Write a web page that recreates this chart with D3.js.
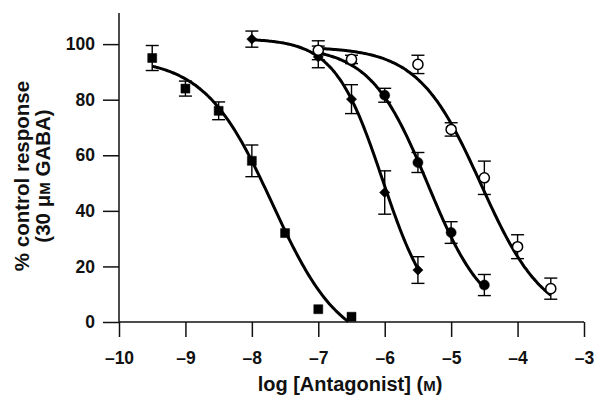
<!DOCTYPE html>
<html>
<head>
<meta charset="utf-8">
<script src="https://cdn.jsdelivr.net/npm/d3@7"></script>
<style>
  body { margin: 0; background: #fff; }
  text { font-family: "Liberation Sans", Arial, sans-serif; font-weight: bold; fill: #111; }
</style>
</head>
<body>
<div id="chart"></div>
<script>
// data: log concentration, % response, s.e.m.
const squareX = [-9.5, -9, -8.5, -8, -7.5, -7, -6.5];
const squareY = [95, 84, 76, 58, 32, 4.6, 1.9];
const squareErr = [4.5, 2.7, 3.2, 5.7, 0, 0, 0];

const diamondX = [-8, -7, -6.5, -6, -5.5];
const diamondY = [101.8, 95.4, 80.2, 46.6, 18.7];
const diamondErr = [2.9, 3.9, 5.2, 7.8, 4.8];

const filledX = [-7, -6.5, -6, -5.5, -5, -4.5];
const filledY = [97, 94, 81.6, 57.4, 32.2, 13.3];
const filledErr = [0, 0, 2.5, 3.6, 3.9, 3.8];

const openX = [-7, -6.5, -5.5, -5, -4.5, -4, -3.5];
const openY = [97.8, 94.5, 92.7, 69.3, 51.9, 27.1, 12];
const openErr = [3.4, 1.5, 3.3, 2.4, 6, 4.3, 3.8];

// fitted logistic curves: [top, bottom, logIC50, slope, from, to]
const squareFit = [95, -10, -7.69, 0.85, -9.5, -6.55];
const diamondFit = [102, 0, -6.03, 1.2, -8, -5.5];
const filledFit = [99, 0, -5.35, 1.0, -7, -4.5];
const openFit = [99, 0, -4.55, 0.92, -7, -3.5];

const xTicks = [-10, -9, -8, -7, -6, -5, -4, -3];
const yTicks = [0, 20, 40, 60, 80, 100];

const width = 596, height = 395;

const x = d3.scaleLinear().domain([-10, -3]).range([119, 584]);
const y = d3.scaleLinear().domain([0, 111.2]).range([322, 13]);

const svg = d3.select("#chart").append("svg")
    .attr("width", width)
    .attr("height", height);

// axes
const xAxis = d3.axisBottom(x)
    .tickValues(xTicks)
    .tickSize(15)
    .tickPadding(15)
    .tickFormat(d => String(d).replace("-", "\u2013"));

const gx = svg.append("g")
    .attr("transform", `translate(0,${y(0)})`)
    .call(xAxis);
gx.select(".domain").attr("d", `M${x(-10)},0H${x(-3)}`);

const yAxis = d3.axisLeft(y)
    .tickValues(yTicks)
    .tickSize(16)
    .tickPadding(8);

const gy = svg.append("g")
    .attr("transform", `translate(${x(-10)},0)`)
    .call(yAxis);
gy.select(".domain").attr("d", `M0,${y(0)}V${y(111.2)}`);

svg.selectAll(".domain, .tick line")
    .attr("stroke", "#111")
    .attr("stroke-width", 1.5);
svg.selectAll(".tick text")
    .attr("fill", "#111")
    .style("font-size", "17.5px")
    .style("font-family", "'Liberation Sans', Arial, sans-serif")
    .style("font-weight", "bold");

// axis labels
const xLabel = svg.append("text")
    .attr("x", 350)
    .attr("y", 391)
    .attr("text-anchor", "middle")
    .style("font-size", "20px");
xLabel.append("tspan").text("log [Antagonist] (");
xLabel.append("tspan").style("font-size", "15px").text("M");
xLabel.append("tspan").text(")");

const yLabel = svg.append("text")
    .attr("transform", "translate(29,176) rotate(-90)")
    .attr("text-anchor", "middle")
    .style("font-size", "20.5px");
yLabel.append("tspan").attr("x", 0).attr("dy", 0).text("% control response");
yLabel.append("tspan").attr("x", 0).attr("dy", 21).text("(30 \u03bc");
yLabel.append("tspan").style("font-size", "15px").text("M");
yLabel.append("tspan").text(" GABA)");

// curves
const hill = p => {
    const [top, bottom, ic50, n, from, to] = p;
    const pts = [];
    for (let i = 0; i <= 120; i++) {
        const lx = from + (to - from) * i / 120;
        pts.push([lx, bottom + (top - bottom) / (1 + Math.pow(10, (lx - ic50) * n))]);
    }
    return pts;
};
const line = d3.line().x(d => x(d[0])).y(d => y(d[1])).curve(d3.curveBasis);

[squareFit, diamondFit, filledFit, openFit].forEach(p => {
    svg.append("path")
        .attr("d", line(hill(p)))
        .attr("fill", "none")
        .attr("stroke", "#000")
        .attr("stroke-width", 3);
});

// series with error bars and markers
const series = [
    { xs: squareX, ys: squareY, err: squareErr, sym: d3.symbolSquare, size: 81, rot: 0, fill: "#000" },
    { xs: diamondX, ys: diamondY, err: diamondErr, sym: d3.symbolSquare, size: 52, rot: 45, fill: "#000" },
    { xs: filledX, ys: filledY, err: filledErr, sym: d3.symbolCircle, size: 80, rot: 0, fill: "#000" },
    { xs: openX, ys: openY, err: openErr, sym: d3.symbolCircle, size: 80, rot: 0, fill: "#fff" }
];

series.forEach(s => {
    const g = svg.append("g");
    const pts = s.xs.map((v, i) => ({ x: v, y: s.ys[i], e: s.err[i] }));
    const bars = g.selectAll(".err")
        .data(pts.filter(d => d.e > 0))
        .enter().append("g")
        .attr("stroke", "#000")
        .attr("stroke-width", 1.4);
    bars.append("line")
        .attr("x1", d => x(d.x)).attr("x2", d => x(d.x))
        .attr("y1", d => y(d.y - d.e)).attr("y2", d => y(d.y + d.e));
    bars.append("line")
        .attr("x1", d => x(d.x) - 6.5).attr("x2", d => x(d.x) + 6.5)
        .attr("y1", d => y(d.y + d.e)).attr("y2", d => y(d.y + d.e));
    bars.append("line")
        .attr("x1", d => x(d.x) - 6.5).attr("x2", d => x(d.x) + 6.5)
        .attr("y1", d => y(d.y - d.e)).attr("y2", d => y(d.y - d.e));

    g.selectAll(".pt")
        .data(pts)
        .enter().append("path")
        .attr("d", d3.symbol().type(s.sym).size(s.size))
        .attr("transform", d => `translate(${x(d.x)},${y(d.y)}) rotate(${s.rot})`)
        .attr("fill", s.fill)
        .attr("stroke", "#000")
        .attr("stroke-width", s.fill === "#fff" ? 1.5 : 0.5);
});
</script>
</body>
</html>
